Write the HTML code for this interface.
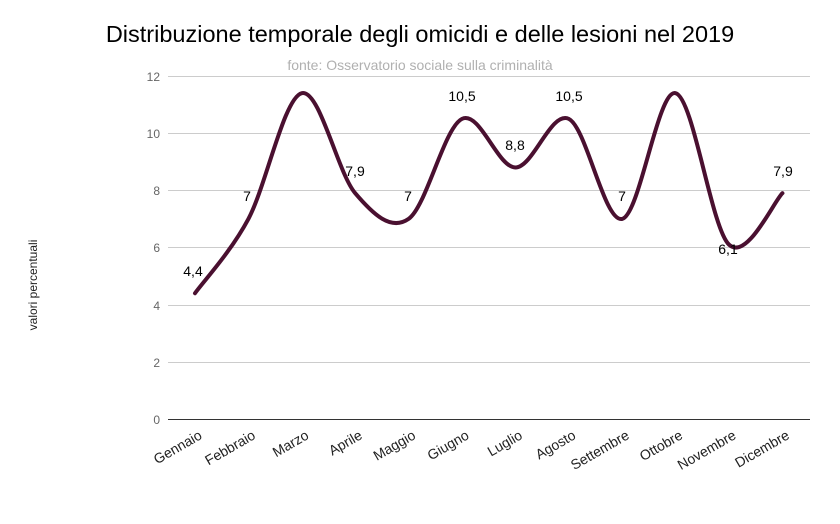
<!DOCTYPE html>
<html><head><meta charset="utf-8"><style>
body{margin:0;background:#fff;}
svg text{font-family:"Liberation Sans",Arial,sans-serif;}
</style></head><body>
<svg id="s" width="840" height="519" xmlns="http://www.w3.org/2000/svg">
<rect width="840" height="519" fill="#fff"/>
<text x="420" y="42" text-anchor="middle" font-size="23.5" fill="#000">Distribuzione temporale degli omicidi e delle lesioni nel 2019</text>
<text x="420" y="70" text-anchor="middle" font-size="14" fill="#b0b0b0">fonte: Osservatorio sociale sulla criminalità</text>
<g stroke="#cccccc" stroke-width="1">
<line x1="168" x2="810" y1="76.5" y2="76.5"/>
<line x1="168" x2="810" y1="133.5" y2="133.5"/>
<line x1="168" x2="810" y1="190.5" y2="190.5"/>
<line x1="168" x2="810" y1="247.5" y2="247.5"/>
<line x1="168" x2="810" y1="305.5" y2="305.5"/>
<line x1="168" x2="810" y1="362.5" y2="362.5"/>
</g>
<line x1="168" x2="810" y1="419.5" y2="419.5" stroke="#333" stroke-width="1"/>
<g font-size="12" fill="#666" text-anchor="end">
<text x="160" y="81">12</text><text x="160" y="138">10</text><text x="160" y="195">8</text>
<text x="160" y="252">6</text><text x="160" y="310">4</text><text x="160" y="367">2</text><text x="160" y="424">0</text>
</g>
<text transform="translate(37,285) rotate(-90)" text-anchor="middle" font-size="12" fill="#222">valori percentuali</text>
<g id="xl" font-size="14" fill="#222" text-anchor="end"></g>
<path id="p" fill="none" stroke="#4a1030" stroke-width="4" stroke-linejoin="round" stroke-linecap="round"/>
<g font-size="14" fill="#000" text-anchor="middle">
<text x="193" y="276">4,4</text>
<text x="247" y="201">7</text>
<text x="355" y="176">7,9</text>
<text x="408" y="201">7</text>
<text x="462" y="101">10,5</text>
<text x="515" y="150">8,8</text>
<text x="569" y="101">10,5</text>
<text x="622" y="201">7</text>
<text x="728" y="254">6,1</text>
<text x="783" y="176">7,9</text>
</g>
</svg>
<script>
var v=[4.4,7,11.4,7.9,7,10.5,8.8,10.5,7,11.4,6.1,7.9];
var m=["Gennaio","Febbraio","Marzo","Aprile","Maggio","Giugno","Luglio","Agosto","Settembre","Ottobre","Novembre","Dicembre"];
var P=v.map(function(a,i){return [195+53.4*i,419-a*28.583];});
var d="M"+P[0][0]+","+P[0][1];
for(var i=0;i<P.length-1;i++){
 var p0=P[i-1]||P[i],p1=P[i],p2=P[i+1],p3=P[i+2]||P[i+1];
 d+=" C"+(p1[0]+(p2[0]-p0[0])/6)+","+(p1[1]+(p2[1]-p0[1])/6)+" "+(p2[0]-(p3[0]-p1[0])/6)+","+(p2[1]-(p3[1]-p1[1])/6)+" "+p2[0]+","+p2[1];
}
document.getElementById("p").setAttribute("d",d);
var g=document.getElementById("xl"),h="";
m.forEach(function(n,i){var x=P[i][0]+8;h+='<text transform="translate('+x+',438) rotate(-30)">'+n+'</text>';});
g.innerHTML=h;
</script>
</body></html>
